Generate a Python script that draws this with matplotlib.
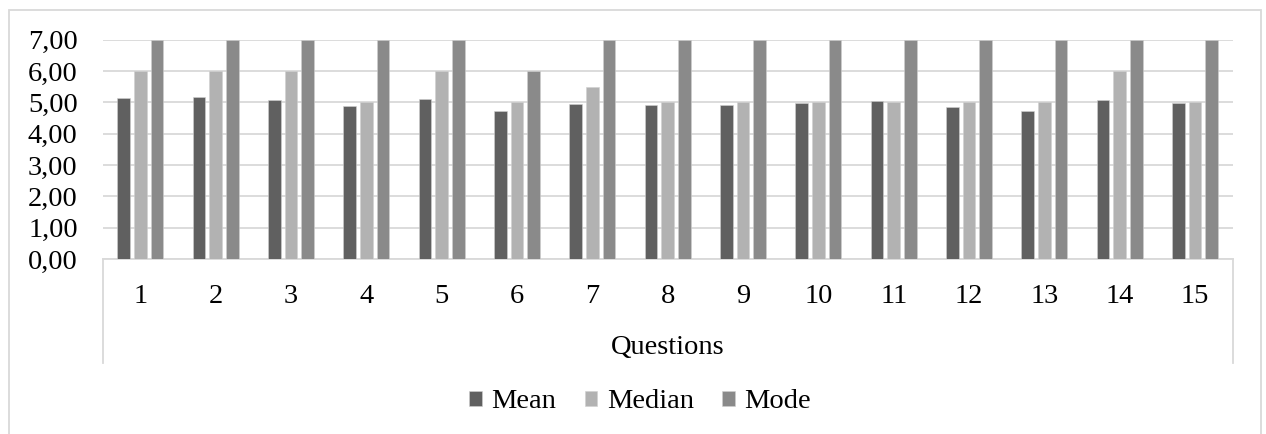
import matplotlib
matplotlib.use("Agg")
import matplotlib.pyplot as plt
from matplotlib.patches import Rectangle
from matplotlib.lines import Line2D
import numpy as np

questions = [str(i) for i in range(1, 16)]
mean = [5.13, 5.17, 5.06, 4.87, 5.11, 4.72, 4.94, 4.91, 4.91, 4.99, 5.04, 4.85, 4.74, 5.09, 4.99]
median = [6, 6, 6, 5, 6, 5, 5.5, 5, 5, 5, 5, 5, 5, 6, 5]
mode = [7, 7, 7, 7, 7, 6, 7, 7, 7, 7, 7, 7, 7, 7, 7]
series = ["Mean", "Median", "Mode"]
colors = ["#606060", "#b2b2b2", "#8a8a8a"]
yticks = [0, 1, 2, 3, 4, 5, 6, 7]

plt.rcParams['font.family'] = ['Liberation Serif', 'DejaVu Serif']
fs = 20.5

W, H = 1266, 434
fig = plt.figure(figsize=(W / 100, H / 100), dpi=100)

# plot area in pixels
left, right, top, bottom = 102.7, 1232.7, 39.7, 259
ax = fig.add_axes([left / W, 1 - bottom / H, (right - left) / W, (bottom - top) / H])

x = np.arange(len(questions))
w = 0.168
step = 0.222
for i, (name, vals) in enumerate(zip(series, [mean, median, mode])):
    ax.bar(x + (i - 1) * step, vals, width=w, color=colors[i], label=name,
           edgecolor="#d0d0d0", linewidth=0.4, zorder=3)

ax.set_xlim(-0.5, len(questions) - 0.5)
ax.set_ylim(0, 7)
ax.set_yticks(yticks)
ax.set_yticklabels(["%d,00" % v for v in yticks], fontsize=fs)
ax.yaxis.grid(True, color="#d9d9d9", linewidth=1.3, zorder=0)
ax.set_xticks(x)
ax.set_xticklabels(questions, fontsize=fs)
ax.tick_params(axis="both", length=0)
ax.tick_params(axis="x", pad=18)
ax.tick_params(axis="y", pad=18)
for s in ["top", "right", "left"]:
    ax.spines[s].set_visible(False)
ax.spines["bottom"].set_color("#d9d9d9")
ax.spines["bottom"].set_linewidth(1.3)
ax.set_axisbelow(True)

# category axis box
box_bottom = 363
for px in [left, right]:
    fig.add_artist(Line2D([px / W, px / W], [1 - bottom / H, 1 - box_bottom / H],
                          color="#d9d9d9", linewidth=1.3))

fig.text((left + right) / 2 / W, 1 - 347 / H, "Questions", ha="center", va="center", fontsize=fs)

leg = fig.legend(loc="center", bbox_to_anchor=(640 / W, 1 - 402 / H), ncol=3, frameon=False,
                 fontsize=fs, handlelength=0.45, handleheight=0.45, handletextpad=0.33,
                 columnspacing=1.0)

# outer chart border
fig.add_artist(Rectangle((9 / W, -0.01), (1261 - 9) / W, 1 - 10 / H + 0.01, fill=False,
                         edgecolor="#d9d9d9", linewidth=1.3))

fig.savefig("out.png", dpi=100)
